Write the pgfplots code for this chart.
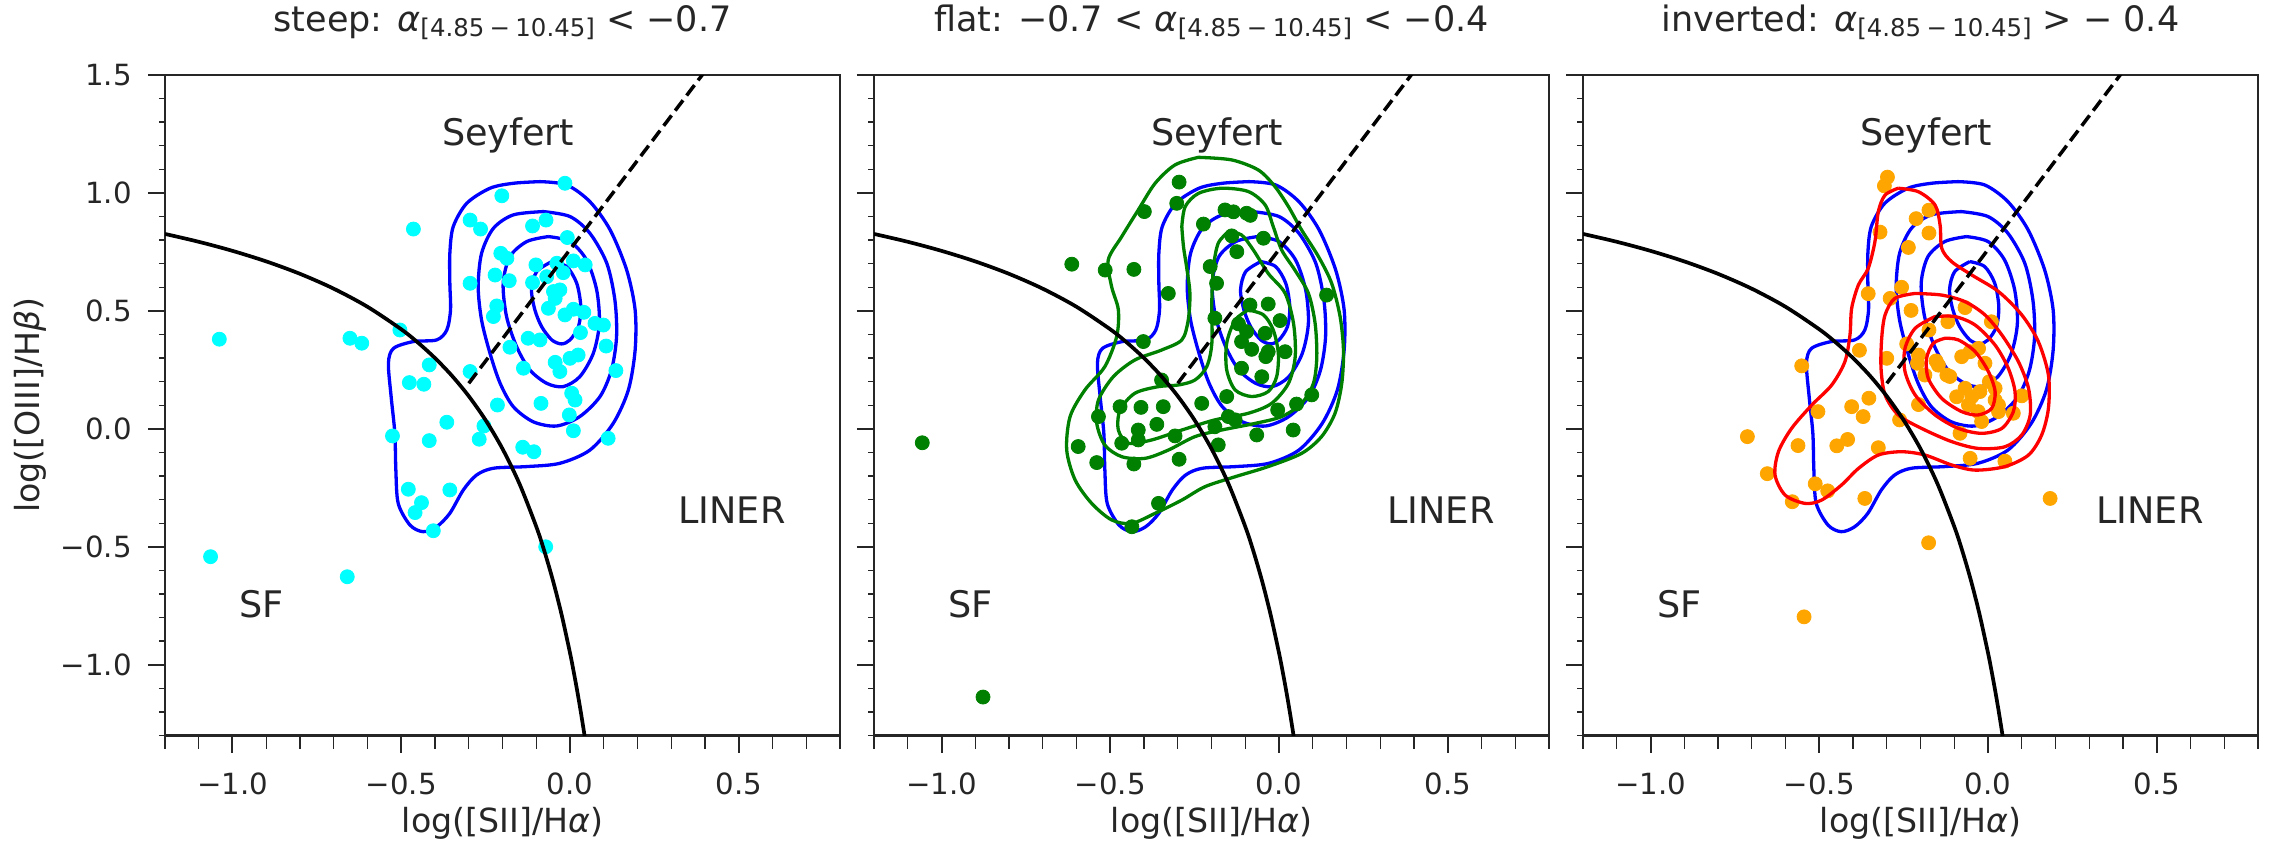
\documentclass[border=0pt]{standalone}
\usepackage{fontspec}
\setmainfont{DejaVu Sans}
\usepackage{pgfplots}
\pgfplotsset{compat=1.18}

\definecolor{spine}{HTML}{262626}
\definecolor{mplcyan}{HTML}{00FFFF}
\definecolor{mplgreen}{HTML}{008000}
\definecolor{mplorange}{HTML}{FFA500}
\definecolor{mplblue}{HTML}{0000FF}
\definecolor{mplred}{HTML}{FF0000}

% spectral index symbol with its frequency range
\newcommand{\spidx}{{\itshape α}\raisebox{-2.5pt}{\fontsize{12.2}{12.2}\selectfont[4.85\hspace{0.22em}−\hspace{0.22em}10.45]}}

\tikzset{
  region/.style={anchor=base west, font=\fontsize{18.3}{21}\selectfont, text=spine},
  xtl/.style={anchor=north, inner sep=0pt, yshift=-18.3pt,
    font=\fontsize{14.6}{17}\selectfont, text=spine},
  ytl/.style={anchor=east, inner sep=0pt, xshift=-16.5pt,
    font=\fontsize{14.6}{17}\selectfont, text=spine},
  xlab/.style={anchor=north, inner sep=0pt, yshift=-35.6pt,
    font=\fontsize{16.6}{19}\selectfont, text=spine},
}

\pgfplotsset{
  bpt/.style={
    scale only axis, width=337.5pt, height=330.25pt,
    xmin=-1.2, xmax=0.8, ymin=-1.3, ymax=1.5,
    xtick={-1,-0.5,0,0.5}, xticklabels={},
    % minor x ticks, drawn longer than the minor y ticks
    extra x ticks={-1.2,-1.1,-0.9,-0.8,-0.7,-0.6,-0.4,-0.3,-0.2,-0.1,0.1,0.2,0.3,0.4,0.6,0.7,0.8},
    extra x tick labels={},
    extra x tick style={major tick length=6.6pt,
      every major tick/.append style={line width=0.7pt}},
    ytick={-1,-0.5,0,0.5,1,1.5}, yticklabels={},
    minor ytick={-1.3,-1.2,-1.1,-0.9,-0.8,-0.7,-0.6,-0.4,-0.3,-0.2,-0.1,0.1,0.2,0.3,0.4,0.6,0.7,0.8,0.9,1.1,1.2,1.3,1.4},
    tick align=outside, xtick pos=left, ytick pos=left,
    major tick length=8.6pt, minor tick length=3pt,
    every tick/.style={spine, line width=1pt},
    every minor tick/.append style={line width=0.7pt},
    axis line style={spine, line width=1.1pt},
    title style={font=\fontsize{17.5}{20}\selectfont, text=spine,
      at={(rel axis cs:0.5,1.048)}, anchor=base},
    clip=true, clip mode=individual,
  },
  kde/.style={line width=1.65pt, smooth},
  pts/.style={only marks, mark=*, mark size=3.5pt},
}

% tick numbers and x-axis title under each panel
\newcommand{\xlabels}{%
  \node[xtl] at (axis cs:-1,-1.3) {−1.0};
  \node[xtl] at (axis cs:-0.5,-1.3) {−0.5};
  \node[xtl] at (axis cs:0,-1.3) {0.0};
  \node[xtl] at (axis cs:0.5,-1.3) {0.5};
  \node[xlab] at (axis cs:-0.2,-1.3) {log([SII]/H{\itshape α})};
}
\newcommand{\ylabels}{%
  \node[ytl] at (axis cs:-1.2,-1) {−1.0};
  \node[ytl] at (axis cs:-1.2,-0.5) {−0.5};
  \node[ytl] at (axis cs:-1.2,0) {0.0};
  \node[ytl] at (axis cs:-1.2,0.5) {0.5};
  \node[ytl] at (axis cs:-1.2,1) {1.0};
  \node[ytl] at (axis cs:-1.2,1.5) {1.5};
}

% region names
\newcommand{\regionnames}{%
  \node[region] at (axis cs:-0.4,1.2) {Seyfert};
  \node[region] at (axis cs:0.3,-0.4) {LINER};
  \node[region] at (axis cs:-1.0,-0.8) {SF};
}

% Kewley et al. maximum starburst line and Seyfert/LINER separation
\newcommand{\demarcation}{%
  \addplot[black, line width=1.85pt, smooth] coordinates {
    (-1.2,0.8263) (-1.1,0.7930) (-1.0,0.7545) (-0.9,0.7098) (-0.8,0.6571)
    (-0.7,0.5941) (-0.6,0.5174) (-0.5,0.4220) (-0.45,0.3649) (-0.4,0.3000)
    (-0.35,0.2254) (-0.3,0.1387) (-0.25,0.0368) (-0.2,-0.0846) (-0.15,-0.2319)
    (-0.1,-0.4143) (-0.075,-0.5228) (-0.05,-0.6459) (-0.025,-0.7870) (0.0,-0.95)
    (0.01,-1.0226) (0.02,-1.10) (0.03,-1.1828) (0.04,-1.2714) (0.045,-1.318)};
  \addplot[black, line width=1.75pt, dash pattern=on 6.5pt off 3pt] coordinates {
    (-0.30,0.193) (0.40,1.516)};
}

% density contours of the steep-spectrum sample
\newcommand{\steepkde}{%
  \addplot[kde, mplblue] coordinates {
    (-0.089,1.048) (-0.010,1.034) (0.059,0.963) (0.119,0.843) (0.168,0.673)
    (0.193,0.504) (0.193,0.334) (0.173,0.165) (0.128,0.023) (0.059,-0.090)
    (-0.030,-0.146) (-0.128,-0.160) (-0.227,-0.167) (-0.277,-0.196) (-0.316,-0.259)
    (-0.356,-0.358) (-0.395,-0.415) (-0.435,-0.436) (-0.474,-0.408) (-0.509,-0.316)
    (-0.516,-0.174) (-0.519,-0.019) (-0.530,0.137) (-0.538,0.278) (-0.523,0.341)
    (-0.464,0.370) (-0.395,0.377) (-0.365,0.419) (-0.354,0.504) (-0.356,0.617)
    (-0.356,0.744) (-0.346,0.857) (-0.306,0.956) (-0.237,1.020) (-0.168,1.041)
    (-0.089,1.048)};
  \addplot[kde, mplblue] coordinates {
    (-0.079,0.921) (0.000,0.900) (0.059,0.829) (0.109,0.702) (0.133,0.546)
    (0.138,0.391) (0.123,0.250) (0.089,0.137) (0.029,0.052) (-0.040,0.012)
    (-0.109,0.030) (-0.168,0.094) (-0.207,0.193) (-0.237,0.320) (-0.262,0.461)
    (-0.272,0.603) (-0.262,0.744) (-0.227,0.850) (-0.168,0.907) (-0.079,0.921)};
  \addplot[kde, mplblue] coordinates {
    (-0.064,0.815) (0.000,0.794) (0.049,0.716) (0.079,0.589) (0.087,0.447)
    (0.069,0.320) (0.029,0.221) (-0.020,0.179) (-0.069,0.193) (-0.119,0.250)
    (-0.158,0.348) (-0.188,0.476) (-0.198,0.617) (-0.178,0.730) (-0.128,0.794)
    (-0.064,0.815)};
  \addplot[kde, mplblue] coordinates {
    (-0.054,0.709) (-0.010,0.688) (0.020,0.617) (0.032,0.518) (0.025,0.433)
    (0.000,0.377) (-0.025,0.360) (-0.054,0.377) (-0.084,0.433) (-0.104,0.504)
    (-0.114,0.589) (-0.099,0.666) (-0.054,0.709)};
}

\begin{document}
\begin{tikzpicture}
\path[use as bounding box] (-82.5pt,-61.25pt) rectangle (1063pt,367.75pt);

% ---------------- steep ----------------
\begin{axis}[bpt, at={(0pt,0pt)},
  ylabel={log([OIII]/H{\itshape β})},
  ylabel style={font=\fontsize{16.6}{19}\selectfont, text=spine,
    at={(rel axis cs:-0.2,0.5)}, anchor=center},
  title={steep: \spidx\ < −0.7}]
\steepkde
\addplot[pts, mplcyan] coordinates {
  (-0.015,1.041) (-0.202,0.988) (-0.464,0.847) (-0.296,0.885) (-0.265,0.847)
  (-0.111,0.860) (-0.071,0.885) (-0.008,0.811) (-0.205,0.744) (-0.187,0.723)
  (-0.101,0.695) (-0.039,0.702) (0.010,0.712) (0.045,0.695) (-0.222,0.652)
  (-0.296,0.617) (-0.180,0.628) (-0.111,0.620) (-0.069,0.645) (-0.020,0.662)
  (-0.049,0.582) (-0.030,0.589) (-0.044,0.553) (-0.064,0.511) (-0.217,0.521)
  (-0.227,0.476) (-0.015,0.483) (0.010,0.507) (0.041,0.494) (0.074,0.447)
  (0.099,0.440) (0.031,0.408) (-0.124,0.384) (-0.089,0.377) (-0.178,0.346)
  (0.107,0.351) (0.000,0.299) (0.024,0.313) (-0.044,0.282) (-0.030,0.243)
  (-0.138,0.257) (-0.296,0.243) (-0.417,0.271) (-0.504,0.419) (-0.652,0.384)
  (-0.617,0.363) (-1.039,0.380) (-0.476,0.196) (-0.433,0.189) (0.136,0.247)
  (0.005,0.151) (0.015,0.122) (-0.215,0.101) (-0.086,0.108) (-0.002,0.059)
  (0.010,-0.008) (0.113,-0.040) (-0.365,0.028) (-0.255,0.012) (-0.269,-0.044)
  (-0.417,-0.050) (-0.526,-0.030) (-0.140,-0.078) (-0.107,-0.097) (-0.479,-0.256)
  (-0.356,-0.259) (-0.440,-0.313) (-0.459,-0.355) (-0.405,-0.432) (-0.072,-0.500)
  (-1.065,-0.542) (-0.660,-0.627)};
\demarcation
\regionnames
\xlabels
\ylabels
\end{axis}

% ---------------- flat ----------------
\begin{axis}[bpt, at={(354.5pt,0pt)},
  title={flat: −0.7 < \spidx\ < −0.4}]
\steepkde
\addplot[pts, mplgreen] coordinates {
  (-0.296,1.046) (-0.303,0.956) (-0.399,0.921) (-0.160,0.928) (-0.135,0.920)
  (-0.096,0.914) (-0.085,0.905) (-0.224,0.868) (-0.140,0.818) (-0.046,0.808)
  (-0.125,0.751) (-0.614,0.698) (-0.515,0.673) (-0.430,0.676) (-0.204,0.688)
  (-0.185,0.617) (-0.328,0.574) (0.141,0.567) (-0.086,0.525) (-0.032,0.529)
  (-0.190,0.469) (0.003,0.459) (-0.120,0.445) (-0.096,0.412) (-0.041,0.405)
  (-0.111,0.370) (-0.081,0.337) (-0.032,0.327) (0.018,0.327) (-0.039,0.306)
  (-0.111,0.257) (-0.051,0.221) (-0.402,0.370) (-0.348,0.207) (-0.155,0.137)
  (-0.229,0.108) (0.097,0.144) (0.052,0.105) (-0.004,0.080) (-0.471,0.094)
  (-0.409,0.091) (-0.343,0.094) (-0.535,0.052) (-0.150,0.052) (-0.130,0.038)
  (-0.190,0.009) (-0.362,0.019) (-0.417,-0.005) (-0.417,-0.047) (-0.308,-0.030)
  (-0.466,-0.061) (-0.066,-0.026) (0.042,-0.005) (-0.180,-0.068) (-0.595,-0.075)
  (-0.540,-0.143) (-0.430,-0.149) (-0.296,-0.129) (-0.357,-0.316) (-0.436,-0.415)
  (-1.057,-0.059) (-0.877,-1.137)};
\addplot[kde, mplgreen] coordinates {
  (-0.239,1.151) (-0.140,1.140) (-0.061,1.097) (-0.012,1.027) (0.028,0.942)
  (0.067,0.843) (0.117,0.730) (0.156,0.617) (0.181,0.476) (0.191,0.334)
  (0.186,0.193) (0.166,0.066) (0.126,-0.033) (0.067,-0.104) (-0.032,-0.160)
  (-0.130,-0.203) (-0.219,-0.245) (-0.288,-0.302) (-0.367,-0.358) (-0.437,-0.401)
  (-0.496,-0.386) (-0.555,-0.316) (-0.604,-0.217) (-0.629,-0.090) (-0.619,0.052)
  (-0.575,0.165) (-0.516,0.264) (-0.481,0.391) (-0.476,0.504) (-0.496,0.603)
  (-0.506,0.716) (-0.466,0.815) (-0.417,0.928) (-0.367,1.041) (-0.308,1.119)
  (-0.239,1.151)};
\addplot[kde, mplgreen] coordinates {
  (-0.288,0.857) (-0.278,0.942) (-0.239,0.998) (-0.170,1.020) (-0.091,1.006)
  (-0.041,0.949) (-0.017,0.857) (0.008,0.758) (0.047,0.673) (0.087,0.575)
  (0.107,0.447) (0.112,0.306) (0.102,0.193) (0.067,0.108) (0.008,0.052)
  (-0.071,0.023) (-0.170,-0.005) (-0.249,-0.033) (-0.328,-0.090) (-0.397,-0.125)
  (-0.466,-0.118) (-0.516,-0.069) (-0.540,0.023) (-0.535,0.122) (-0.491,0.221)
  (-0.427,0.292) (-0.348,0.334) (-0.288,0.377) (-0.269,0.461) (-0.264,0.575)
  (-0.274,0.688) (-0.283,0.772) (-0.288,0.857)};
\addplot[kde, mplgreen] coordinates {
  (-0.150,0.836) (-0.111,0.822) (-0.076,0.758) (-0.032,0.659) (0.018,0.575)
  (0.043,0.447) (0.048,0.306) (0.028,0.193) (-0.022,0.108) (-0.091,0.066)
  (-0.190,0.038) (-0.288,-0.005) (-0.377,-0.047) (-0.446,-0.061) (-0.476,-0.005)
  (-0.471,0.080) (-0.427,0.151) (-0.357,0.179) (-0.298,0.186) (-0.249,0.207)
  (-0.214,0.264) (-0.199,0.363) (-0.199,0.546) (-0.194,0.688) (-0.180,0.787)
  (-0.150,0.836)};
\addplot[kde, mplgreen] coordinates {
  (-0.091,0.504) (-0.046,0.483) (-0.017,0.419) (-0.002,0.320) (-0.007,0.221)
  (-0.032,0.158) (-0.081,0.137) (-0.130,0.165) (-0.155,0.250) (-0.155,0.363)
  (-0.130,0.461) (-0.091,0.504)};
\demarcation
\regionnames
\xlabels
\end{axis}

% ---------------- inverted ----------------
\begin{axis}[bpt, at={(709pt,0pt)},
  title={inverted: \spidx\ > − 0.4}]
\steepkde
\addplot[pts, mplorange] coordinates {
  (-0.298,1.067) (-0.307,1.030) (-0.175,0.927) (-0.213,0.891) (-0.320,0.834)
  (-0.175,0.830) (-0.236,0.769) (-0.355,0.573) (-0.256,0.600) (-0.290,0.553)
  (-0.228,0.502) (-0.068,0.514) (0.010,0.454) (-0.119,0.454) (-0.175,0.419)
  (-0.241,0.360) (-0.381,0.333) (-0.300,0.299) (-0.209,0.278) (-0.154,0.288)
  (-0.147,0.270) (-0.122,0.228) (-0.113,0.222) (-0.187,0.228) (-0.206,0.313)
  (-0.078,0.306) (-0.053,0.327) (-0.028,0.341) (-0.009,0.278) (0.004,0.200)
  (-0.068,0.172) (-0.024,0.158) (0.021,0.172) (-0.093,0.136) (-0.048,0.136)
  (0.021,0.122) (0.031,0.101) (-0.058,0.101) (-0.029,0.073) (0.031,0.073)
  (0.075,0.066) (0.100,0.140) (-0.019,0.031) (-0.083,-0.019) (-0.053,-0.125)
  (0.050,-0.137) (-0.206,0.103) (-0.262,0.038) (-0.353,0.130) (-0.404,0.094)
  (-0.370,0.052) (-0.504,0.073) (-0.552,0.267) (-0.713,-0.033) (-0.563,-0.071)
  (-0.448,-0.072) (-0.416,-0.045) (-0.325,-0.080) (-0.654,-0.190) (-0.512,-0.233)
  (-0.475,-0.263) (-0.580,-0.309) (-0.365,-0.295) (0.184,-0.295) (-0.176,-0.483)
  (-0.545,-0.797)};
\addplot[kde, mplred] coordinates {
  (-0.266,1.020) (-0.206,1.005) (-0.157,0.949) (-0.142,0.864) (-0.137,0.765)
  (-0.108,0.709) (-0.048,0.652) (0.031,0.582) (0.100,0.483) (0.149,0.370)
  (0.179,0.228) (0.179,0.087) (0.159,-0.026) (0.120,-0.111) (0.050,-0.160)
  (-0.038,-0.175) (-0.108,-0.153) (-0.187,-0.111) (-0.256,-0.097) (-0.325,-0.111)
  (-0.384,-0.168) (-0.434,-0.238) (-0.493,-0.302) (-0.542,-0.316) (-0.601,-0.281)
  (-0.631,-0.196) (-0.621,-0.097) (-0.582,0.002) (-0.522,0.101) (-0.463,0.186)
  (-0.424,0.285) (-0.409,0.398) (-0.404,0.511) (-0.384,0.610) (-0.355,0.680)
  (-0.335,0.794) (-0.325,0.921) (-0.305,0.991) (-0.266,1.020)};
\addplot[kde, mplred] coordinates {
  (-0.216,0.574) (-0.137,0.567) (-0.068,0.539) (-0.009,0.483) (0.041,0.398)
  (0.090,0.285) (0.120,0.172) (0.125,0.059) (0.100,-0.026) (0.050,-0.076)
  (-0.029,-0.083) (-0.108,-0.054) (-0.197,0.002) (-0.266,0.059) (-0.305,0.144)
  (-0.317,0.257) (-0.315,0.384) (-0.305,0.483) (-0.276,0.553) (-0.216,0.574)};
\addplot[kde, mplred] coordinates {
  (-0.157,0.476) (-0.098,0.476) (-0.038,0.440) (0.021,0.355) (0.060,0.257)
  (0.080,0.158) (0.075,0.073) (0.041,0.002) (-0.019,-0.019) (-0.088,0.002)
  (-0.157,0.059) (-0.216,0.144) (-0.246,0.243) (-0.246,0.341) (-0.216,0.426)
  (-0.157,0.476)};
\addplot[kde, mplred] coordinates {
  (-0.127,0.384) (-0.088,0.377) (-0.038,0.327) (0.001,0.243) (0.021,0.158)
  (0.011,0.087) (-0.029,0.059) (-0.078,0.073) (-0.137,0.129) (-0.177,0.214)
  (-0.182,0.299) (-0.162,0.363) (-0.127,0.384)};
\demarcation
\regionnames
\xlabels
\end{axis}
\end{tikzpicture}
\end{document}
